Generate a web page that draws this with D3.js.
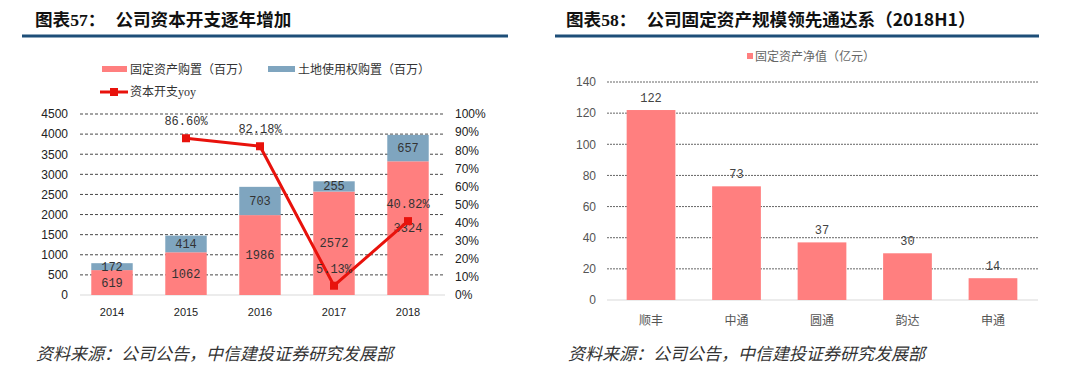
<!DOCTYPE html>
<html>
<head>
<meta charset="utf-8">
<script src="https://cdn.jsdelivr.net/npm/d3@7"></script>
<style>
  body { margin: 0; background: #fff; }
  svg { display: block; }
</style>
</head>
<body>
<div id="container"></div>
<script>
// chart 57 data
let years = ["2014", "2015", "2016", "2017", "2018"];
let fixedAsset = [619, 1062, 1986, 2572, 3324];
let landUse = [172, 414, 703, 255, 657];
let yoy = [null, 86.60, 82.18, 5.13, 40.82];
let leftTicks = [0, 500, 1000, 1500, 2000, 2500, 3000, 3500, 4000, 4500];
let pctTicks = [0, 10, 20, 30, 40, 50, 60, 70, 80, 90, 100];

// chart 58 data
let companies = ["顺丰", "中通", "圆通", "韵达", "申通"];
let netFixed = [122, 73, 37, 30, 14];
let rightTicks = [0, 20, 40, 60, 80, 100, 120, 140];

let w = 1080;
let h = 376;
let pink = "#ff7f7f";
let steel = "#7fa5bf";
let axisFont = "Arial, 'Liberation Sans', sans-serif";
let labelFont = "'Liberation Mono', 'DejaVu Sans Mono', monospace";
let cjk = "'Noto Sans CJK SC', sans-serif";

let svg = d3.select("#container")
  .append("svg")
  .attr("width", w)
  .attr("height", h);

// ---------- headers ----------
function header(x0, x1, tx, num, title) {
  let t = svg.append("text")
    .attr("x", tx)
    .attr("y", 26)
    .attr("font-size", 17.6)
    .attr("font-weight", "bold")
    .attr("fill", "#111");
  t.append("tspan").attr("font-family", cjk).text("图表");
  t.append("tspan").attr("font-family", "'Liberation Serif', serif").text(num);
  t.append("tspan").attr("font-family", cjk).text("：");
  t.append("tspan").attr("font-family", cjk).attr("dx", 10).text(title);
  svg.append("line")
    .attr("x1", x0).attr("x2", x1)
    .attr("y1", 36).attr("y2", 36)
    .attr("stroke", "#1d4e78")
    .attr("stroke-width", 3);
}
header(22, 508, 35, "57", "公司资本开支逐年增加");
header(555, 1039, 566, "58", "公司固定资产规模领先通达系（2018H1）");

// ---------- chart 57 ----------
let x1 = d3.scaleBand().domain(years).range([75, 445]).paddingInner(0.44).paddingOuter(0.22);
let yL = d3.scaleLinear().domain([0, 4500]).range([295, 114]);
let yR = d3.scaleLinear().domain([0, 100]).range([295, 114]);

let g1 = svg.append("g");

// dashed grid
g1.selectAll(".grid1")
  .data(leftTicks.slice(1))
  .enter()
  .append("line")
  .attr("x1", 80).attr("x2", 445)
  .attr("y1", d => yL(d)).attr("y2", d => yL(d))
  .attr("stroke", "#333")
  .attr("stroke-width", 0.9)
  .attr("stroke-dasharray", "3,2");
g1.append("line")
  .attr("x1", 80).attr("x2", 445)
  .attr("y1", yL(0)).attr("y2", yL(0))
  .attr("stroke", "#d9d9d9");

// left axis
let axL = g1.append("g")
  .attr("transform", "translate(74,0)")
  .call(d3.axisLeft(yL).tickValues(leftTicks).tickSize(0).tickPadding(6).tickFormat(d3.format("d")));
axL.select(".domain").remove();
axL.selectAll("text").attr("font-family", axisFont).attr("font-size", 12).attr("fill", "#222");

// right axis
let axR = g1.append("g")
  .attr("transform", "translate(450,0)")
  .call(d3.axisRight(yR).tickValues(pctTicks).tickSize(0).tickPadding(5).tickFormat(d => d + "%"));
axR.select(".domain").remove();
axR.selectAll("text").attr("font-family", axisFont).attr("font-size", 12).attr("fill", "#222");

// x axis
let axX = g1.append("g")
  .attr("transform", "translate(0,308)")
  .call(d3.axisBottom(x1).tickSize(0).tickPadding(0));
axX.select(".domain").remove();
axX.selectAll("text").attr("font-family", axisFont).attr("font-size", 11).attr("fill", "#222");

// stacked bars
g1.selectAll(".fixed")
  .data(years)
  .enter()
  .append("rect")
  .attr("x", d => x1(d))
  .attr("width", x1.bandwidth())
  .attr("y", (d, i) => yL(fixedAsset[i]))
  .attr("height", (d, i) => yL(0) - yL(fixedAsset[i]))
  .attr("fill", pink);
g1.selectAll(".land")
  .data(years)
  .enter()
  .append("rect")
  .attr("x", d => x1(d))
  .attr("width", x1.bandwidth())
  .attr("y", (d, i) => yL(fixedAsset[i] + landUse[i]))
  .attr("height", (d, i) => yL(fixedAsset[i]) - yL(fixedAsset[i] + landUse[i]))
  .attr("fill", steel);

g1.selectAll(".fixedLbl")
  .data(years)
  .enter()
  .append("text")
  .attr("x", d => x1(d) + x1.bandwidth() / 2)
  .attr("y", (d, i) => (yL(0) + yL(fixedAsset[i])) / 2 + 4)
  .attr("text-anchor", "middle")
  .attr("font-family", labelFont)
  .attr("font-size", 12)
  .attr("fill", "#333")
  .text((d, i) => fixedAsset[i]);
g1.selectAll(".landLbl")
  .data(years)
  .enter()
  .append("text")
  .attr("x", d => x1(d) + x1.bandwidth() / 2)
  .attr("y", (d, i) => (yL(fixedAsset[i]) + yL(fixedAsset[i] + landUse[i])) / 2 + 4)
  .attr("text-anchor", "middle")
  .attr("font-family", labelFont)
  .attr("font-size", 12)
  .attr("fill", "#333")
  .text((d, i) => landUse[i]);

// yoy line
let yoyPts = years.map((d, i) => ({ year: d, v: yoy[i] })).filter(p => p.v !== null);
let line = d3.line()
  .x(p => x1(p.year) + x1.bandwidth() / 2)
  .y(p => yR(p.v));
g1.append("path")
  .datum(yoyPts)
  .attr("d", line)
  .attr("fill", "none")
  .attr("stroke", "#e8120c")
  .attr("stroke-width", 3);
g1.selectAll(".yoyPt")
  .data(yoyPts)
  .enter()
  .append("rect")
  .attr("x", p => x1(p.year) + x1.bandwidth() / 2 - 4)
  .attr("y", p => yR(p.v) - 4)
  .attr("width", 8)
  .attr("height", 8)
  .attr("fill", "#e8120c");
g1.selectAll(".yoyLbl")
  .data(yoyPts)
  .enter()
  .append("text")
  .attr("x", p => x1(p.year) + x1.bandwidth() / 2)
  .attr("y", p => yR(p.v) - 13)
  .attr("text-anchor", "middle")
  .attr("font-family", labelFont)
  .attr("font-size", 12)
  .attr("fill", "#333")
  .text(p => p.v.toFixed(2) + "%");

// legend 57
let leg1 = g1.append("g").attr("font-family", cjk).attr("font-size", 12).attr("fill", "#333");
leg1.append("rect").attr("x", 102).attr("y", 66).attr("width", 25).attr("height", 6).attr("fill", pink);
leg1.append("text").attr("x", 130).attr("y", 74).text("固定资产购置（百万）");
leg1.append("rect").attr("x", 268).attr("y", 66).attr("width", 27).attr("height", 6).attr("fill", steel);
leg1.append("text").attr("x", 298).attr("y", 74).text("土地使用权购置（百万）");
leg1.append("line").attr("x1", 100).attr("x2", 128).attr("y1", 92).attr("y2", 92)
  .attr("stroke", "#e8120c").attr("stroke-width", 3);
leg1.append("rect").attr("x", 110).attr("y", 88).attr("width", 8).attr("height", 8).attr("fill", "#e8120c");
let yt = leg1.append("text").attr("x", 130).attr("y", 96);
yt.append("tspan").text("资本开支");
yt.append("tspan").attr("font-family", "'Liberation Serif', serif").text("yoy");

// ---------- chart 58 ----------
let x2 = d3.scaleBand().domain(companies).range([607, 1037]).paddingInner(0.43).paddingOuter(0.23);
let y2 = d3.scaleLinear().domain([0, 140]).range([300, 82]);
let g2 = svg.append("g");

g2.selectAll(".grid2")
  .data(rightTicks.slice(1))
  .enter()
  .append("line")
  .attr("x1", 607).attr("x2", 1038)
  .attr("y1", d => y2(d)).attr("y2", d => y2(d))
  .attr("stroke", "#555")
  .attr("stroke-width", 0.9)
  .attr("stroke-dasharray", "2,1");
g2.append("line")
  .attr("x1", 607).attr("x2", 1038)
  .attr("y1", y2(0)).attr("y2", y2(0))
  .attr("stroke", "#d9d9d9");

let ax2 = g2.append("g")
  .attr("transform", "translate(601,0)")
  .call(d3.axisLeft(y2).tickValues(rightTicks).tickSize(0).tickPadding(5));
ax2.select(".domain").remove();
ax2.selectAll("text").attr("font-family", axisFont).attr("font-size", 12).attr("fill", "#555");

let ax2x = g2.append("g")
  .attr("transform", "translate(0,316)")
  .call(d3.axisBottom(x2).tickSize(0).tickPadding(0));
ax2x.select(".domain").remove();
ax2x.selectAll("text").attr("font-family", cjk).attr("font-size", 12).attr("fill", "#555");

g2.selectAll(".bar2")
  .data(companies)
  .enter()
  .append("rect")
  .attr("x", d => x2(d))
  .attr("width", x2.bandwidth())
  .attr("y", (d, i) => y2(netFixed[i]))
  .attr("height", (d, i) => y2(0) - y2(netFixed[i]))
  .attr("fill", pink);
g2.selectAll(".bar2Lbl")
  .data(companies)
  .enter()
  .append("text")
  .attr("x", d => x2(d) + x2.bandwidth() / 2)
  .attr("y", (d, i) => y2(netFixed[i]) - 8)
  .attr("text-anchor", "middle")
  .attr("font-family", labelFont)
  .attr("font-size", 12)
  .attr("fill", "#444")
  .text((d, i) => netFixed[i]);

let leg2 = g2.append("g").attr("font-family", cjk).attr("font-size", 12).attr("fill", "#666");
leg2.append("rect").attr("x", 747).attr("y", 53).attr("width", 6).attr("height", 6).attr("fill", pink);
leg2.append("text").attr("x", 755).attr("y", 61).text("固定资产净值（亿元）");

// ---------- sources ----------
svg.selectAll(".src")
  .data([36, 568])
  .enter()
  .append("text")
  .attr("x", d => d)
  .attr("y", 360)
  .attr("font-family", cjk)
  .attr("font-size", 17)
  .attr("font-style", "italic")
  .attr("fill", "#333")
  .text("资料来源：公司公告，中信建投证券研究发展部");
</script>
</body>
</html>
